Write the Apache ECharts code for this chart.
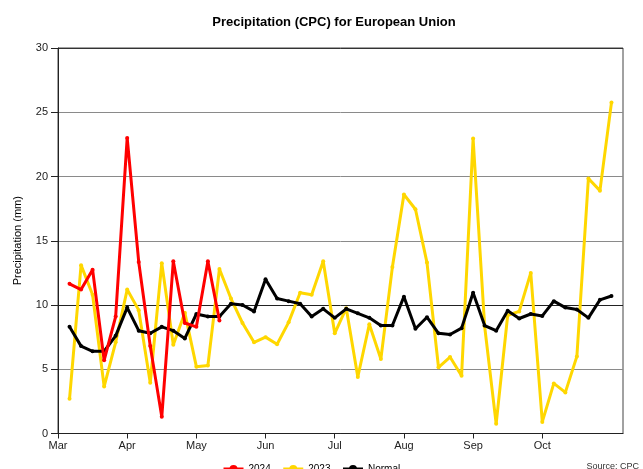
<!DOCTYPE html>
<html>
<head>
<meta charset="utf-8">
<script src="https://cdn.jsdelivr.net/npm/echarts@6/dist/echarts.min.js"></script>
<style>
html,body{margin:0;padding:0;background:#fff;}
#chart{width:643px;height:469px;}
</style>
</head>
<body>
<div id="chart"></div>
<script>
// Month tick labels (one every 6 pentads, starting Mar 1)
const months = ['Mar', 'Apr', 'May', 'Jun', 'Jul', 'Aug', 'Sep', 'Oct'];
const pentadsPerMonth = 6;
const axisSlots = 50; // axis positions 0..49

// Pentad precipitation values (mm), pentads 1..48 after Mar 1
const values2024 = [11.65, 11.2, 12.75, 5.7, 9.1, 23.0, 13.35, 6.8, 1.3, 13.4, 8.6, 8.3, 13.4, 8.8];
const values2023 = [2.7, 13.1, 10.8, 3.65, 7.1, 11.2, 9.6, 3.95, 13.25, 6.9, 9.4, 5.2, 5.3, 12.8,
  10.5, 8.6, 7.1, 7.5, 6.95, 8.65, 10.95, 10.8, 13.4, 7.8, 9.75, 4.4, 8.5, 5.8, 12.95,
  18.6, 17.45, 13.3, 5.15, 5.95, 4.5, 22.95, 8.35, 0.75, 9.2, 9.5, 12.5, 0.9, 3.9, 3.2,
  6.0, 19.85, 18.9, 25.75];
const valuesNormal = [8.3, 6.8, 6.4, 6.4, 7.6, 9.8, 8.0, 7.8, 8.3, 8.0, 7.4, 9.3, 9.1, 9.1,
  10.1, 10.0, 9.5, 12.0, 10.5, 10.3, 10.1, 9.1, 9.7, 9.0, 9.7, 9.35, 9.0, 8.4, 8.4,
  10.65, 8.15, 9.05, 7.8, 7.7, 8.2, 10.95, 8.4, 8.0, 9.55, 8.95, 9.3, 9.15, 10.3, 9.8,
  9.65, 9.0, 10.4, 10.7];
const yTicks = [0, 5, 10, 15, 20, 25, 30];

const categories = [];
for (let i = 0; i < axisSlots; i++) {
  const m = i / pentadsPerMonth;
  categories.push(i % pentadsPerMonth === 0 && m < months.length ? months[m] : '');
}
function place(vals) {
  const out = new Array(axisSlots).fill(null);
  vals.forEach((v, i) => { out[i + 1] = v; });
  return out;
}

const chart = echarts.init(document.getElementById('chart'), null, {renderer: 'canvas'});
const font = 'Liberation Sans, Arial, sans-serif';
chart.setOption({
  animation: false,
  backgroundColor: '#ffffff',
  textStyle: {fontFamily: font},
  title: {
    text: 'Precipitation (CPC) for European Union',
    left: 329, top: 11, textAlign: 'center',
    textStyle: {fontFamily: font, fontSize: 13, fontWeight: 'bold', color: '#000'}
  },
  legend: {
    data: ['2024', '2023', 'Normal'],
    left: 217, top: 459,
    itemWidth: 20, itemHeight: 10, itemGap: 11,
    lineStyle: {width: 3},
    textStyle: {fontFamily: font, fontSize: 10, color: '#000'}
  },
  graphic: [{
    type: 'text', right: 4, top: 462,
    style: {text: 'Source: CPC', font: '9px Liberation Sans, Arial, sans-serif', fill: '#333'}
  }],
  grid: {left: 58, right: 20, top: 48, bottom: 35.5, show: true, borderColor: '#444', borderWidth: 1},
  xAxis: {
    type: 'category', data: categories, boundaryGap: false,
    axisLine: {lineStyle: {color: '#222', width: 1}},
    axisTick: {length: 5, lineStyle: {color: '#222'}, interval: (i, v) => v !== ''},
    axisLabel: {interval: (i, v) => v !== '', fontFamily: font, fontSize: 11, color: '#222', margin: 7},
    splitLine: {show: false}
  },
  yAxis: {
    type: 'value', min: yTicks[0], max: yTicks[yTicks.length - 1], interval: 5,
    name: 'Precipitation (mm)', nameLocation: 'middle', nameGap: 35,
    nameTextStyle: {fontFamily: font, fontSize: 11, color: '#000'},
    axisLine: {show: true, lineStyle: {color: '#222', width: 1}},
    axisTick: {show: true, length: 7, lineStyle: {color: '#222'}},
    axisLabel: {fontFamily: font, fontSize: 11, color: '#222', margin: 10},
    splitLine: {show: true, lineStyle: {color: ['#333', '#8a8a8a', '#222', '#8a8a8a', '#8a8a8a', '#8a8a8a', '#333'], width: 1}}
  },
  series: [
    {name: '2024', type: 'line', data: place(values2024), z: 5, color: '#ff0000',
     symbol: 'circle', symbolSize: 4, showSymbol: true, lineStyle: {width: 3}, connectNulls: false},
    {name: '2023', type: 'line', data: place(values2023), z: 3, color: '#ffd700',
     symbol: 'circle', symbolSize: 4, lineStyle: {width: 3}},
    {name: 'Normal', type: 'line', data: place(valuesNormal), z: 4, color: '#000000',
     symbol: 'circle', symbolSize: 4, lineStyle: {width: 3}}
  ]
});
</script>
</body>
</html>
